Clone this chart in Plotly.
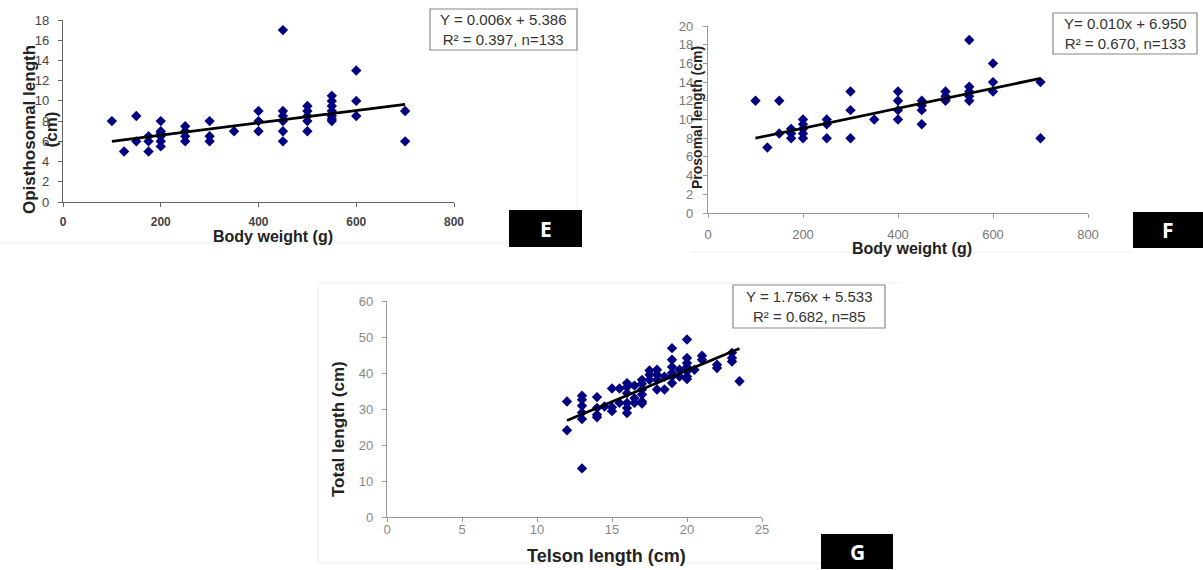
import plotly.graph_objects as go

W, H = 1203, 570

# ---------------- Data ----------------
# Panel E: Body weight (g) vs Opisthosomal length (cm)
e_x = [100, 125, 150, 150, 175, 175, 175,
       200, 200, 200, 200, 200, 200,
       250, 250, 250, 250, 300, 300, 300, 350,
       400, 400, 400, 450, 450, 450, 450, 450, 450,
       500, 500, 500, 500, 500,
       550, 550, 550, 550, 550, 550, 550,
       600, 600, 600, 700, 700]
e_y = [8, 5, 8.5, 6, 6.5, 6, 5,
       8, 7, 6.8, 6.5, 6, 5.5,
       7.5, 7, 6.5, 6, 8, 6.5, 6, 7,
       9, 8, 7, 17, 9, 8.5, 8, 7, 6,
       9.5, 9, 8.5, 8, 7,
       10.5, 10, 9.5, 9, 8.5, 8.2, 8,
       13, 10, 8.5, 9, 6]
e_trend_x = [100, 700]
e_trend_y = [6.0, 9.65]

# Panel F: Body weight (g) vs Prosomal length (cm)
f_x = [100, 125, 150, 150, 175, 175, 175,
       200, 200, 200, 200, 200,
       250, 250, 250, 300, 300, 300, 350,
       400, 400, 400, 400, 450, 450, 450, 450,
       500, 500, 500, 500,
       550, 550, 550, 550, 550,
       600, 600, 600, 700, 700]
f_y = [12, 7, 12, 8.5, 9, 8.5, 8,
       10, 9.5, 9, 8.5, 8,
       10, 9.5, 8, 13, 11, 8, 10,
       13, 12, 11, 10, 12, 11.5, 11, 9.5,
       13, 12.5, 12.2, 12,
       18.5, 13.5, 13, 12.5, 12,
       16, 14, 13, 14, 8]
f_trend_x = [100, 700]
f_trend_y = [8.0, 14.4]

# Panel G: Telson length (cm) vs Total length (cm)
g_x = [12, 12,
       13, 13, 13, 13, 13, 13,
       14, 14, 14, 14, 14.5,
       15, 15, 15, 15.5, 15.5,
       16, 16, 16, 16, 16, 16,
       16.5, 16.5, 16.5,
       17, 17, 17, 17, 17, 17,
       17.5, 17.5, 17.5,
       18, 18, 18, 18, 18.5, 18.5,
       19, 19, 19, 19, 19, 19,
       19.5, 19.5,
       20, 20, 20, 20, 20, 20, 20,
       20.5, 21, 21, 22, 22, 23, 23, 23, 23.5]
g_y = [32.1, 24.1,
       33.7, 32.6, 30.9, 29.0, 27.2, 13.5,
       33.3, 30.3, 28.4, 27.7, 30.7,
       35.7, 30.5, 29.4, 35.7, 31.7,
       37.2, 36.1, 34.4, 31.7, 30.3, 28.9,
       36.5, 33.0, 31.7,
       38.1, 37.0, 35.4, 34.0, 32.1, 31.5,
       40.7, 39.5, 38.1,
       40.9, 39.5, 38.1, 35.4, 39.0, 35.4,
       46.9, 43.7, 41.7, 40.0, 39.0, 37.2,
       40.9, 39.0,
       49.3, 44.2, 42.8, 41.7, 40.5, 39.0, 38.3,
       40.9, 44.8, 43.7, 42.3, 41.4, 45.6, 44.2, 43.2, 37.7]
g_trend_x = [12, 23.5]
g_trend_y = [26.8, 46.8]

eq_texts = {
    "E": "Y = 0.006x + 5.386<br>R² = 0.397, n=133",
    "F": "Y= 0.010x + 6.950<br>R² = 0.670, n=133",
    "G": "Y = 1.756x + 5.533<br>R² = 0.682, n=85",
}

# ---------------- Helpers ----------------
def X(px):
    return px / W

def Y(py):
    return 1 - py / H

MARK = dict(symbol="diamond", size=8, color="#000080", line=dict(width=0))
FONT = "Liberation Sans, Arial, sans-serif"

fig = go.Figure()

panels = [
    ("x", "y", e_x, e_y, e_trend_x, e_trend_y),
    ("x2", "y2", f_x, f_y, f_trend_x, f_trend_y),
    ("x3", "y3", g_x, g_y, g_trend_x, g_trend_y),
]
for xa, ya, px_, py_, tx, ty in panels:
    fig.add_trace(go.Scatter(x=px_, y=py_, mode="markers", marker=MARK,
                             xaxis=xa, yaxis=ya, showlegend=False, hoverinfo="x+y"))
    fig.add_trace(go.Scatter(x=tx, y=ty, mode="lines", line=dict(color="black", width=2.8),
                             xaxis=xa, yaxis=ya, showlegend=False, hoverinfo="skip"))

def ax(domain, rng, dtick, color, tcolor, tsize, standoff, anchor, bold=False):
    return dict(domain=domain, range=rng, dtick=dtick, tick0=0, showgrid=False, zeroline=False,
                showline=True, linecolor=color, linewidth=1.2, ticks="outside", ticklen=4,
                tickcolor=color, tickwidth=1,
                tickfont=dict(family=FONT, size=tsize, color=tcolor,
                              weight="bold" if bold else "normal"),
                ticklabelstandoff=standoff, anchor=anchor, automargin=False, fixedrange=True)

layout = dict(
    width=W, height=H, margin=dict(l=0, r=0, t=0, b=0),
    paper_bgcolor="white", plot_bgcolor="rgba(0,0,0,0)",
    xaxis=ax([X(63), X(454)], [0, 800], 200, "#666", "#444", 12, 4, "y", True),
    yaxis=ax([Y(202), Y(20)], [0, 18], 2, "#666", "#444", 13, 6, "x"),
    xaxis2=ax([X(708), X(1088)], [0, 800], 200, "#999", "#777", 13, 5, "y2"),
    yaxis2=ax([Y(213), Y(26)], [0, 20], 2, "#999", "#777", 13, 7, "x2"),
    xaxis3=ax([X(387), X(762)], [0, 25], 5, "#999", "#888", 13, -4, "y3"),
    yaxis3=ax([Y(517), Y(301)], [0, 60], 10, "#999", "#888", 13, 6, "x3"),
)
fig.update_layout(**layout)

annotations = []
shapes = []

# faint edges of the original image panels
def faint(x0, y0, x1, y1):
    shapes.append(dict(type="line", xref="paper", yref="paper", x0=X(x0), x1=X(x1),
                       y0=Y(y0), y1=Y(y1), line=dict(color="#ededed", width=1), layer="below"))

faint(0, 243, 509, 243)
faint(577, 0, 577, 210)
faint(690, 252, 1133, 252)
faint(318, 283, 900, 283)
faint(318, 283, 318, 563)
faint(318, 563, 821, 563)

def title(text, cx, cy, size, angle=0):
    annotations.append(dict(text=text, x=X(cx), y=Y(cy), xref="paper", yref="paper",
                            showarrow=False, textangle=angle, xanchor="center", yanchor="middle",
                            font=dict(family=FONT, size=size, color="#222", weight="bold")))

# axis titles
title("Opisthosomal length<br>(cm)", 40, 130, 17, -90)
title("Body weight (g)", 273, 237, 16)
title("Prosomal length (cm)", 697, 118, 14, -90)
title("Body weight (g)", 912, 248, 16)
title("Total length (cm)", 338, 429, 17, -90)
title("Telson length (cm)", 606, 556, 18)

# equation boxes
def eqbox(key, x0, y0, x1, y1):
    shapes.append(dict(type="rect", xref="paper", yref="paper", x0=X(x0), x1=X(x1),
                       y0=Y(y1), y1=Y(y0), line=dict(color="#888", width=1.2),
                       fillcolor="white", layer="above"))
    annotations.append(dict(text=eq_texts[key], x=X((x0 + x1) / 2), y=Y((y0 + y1) / 2),
                            xref="paper", yref="paper", showarrow=False, align="center",
                            xanchor="center", yanchor="middle",
                            font=dict(family=FONT, size=15, color="#333")))

eqbox("E", 430, 9, 577, 50)
eqbox("F", 1053, 13, 1197, 54)
eqbox("G", 733, 285, 885, 328)

# black label boxes
def label(letter, x0, y0, x1, y1):
    shapes.append(dict(type="rect", xref="paper", yref="paper", x0=X(x0), x1=X(x1),
                       y0=Y(y1), y1=Y(y0), line=dict(width=0), fillcolor="black"))
    annotations.append(dict(text=letter, x=X((x0 + x1) / 2), y=Y((y0 + y1) / 2),
                            xref="paper", yref="paper", showarrow=False,
                            xanchor="center", yanchor="middle",
                            font=dict(family="Open Sans, sans-serif", size=21, color="white",
                                      weight="bold")))

label("E", 509, 210, 582, 247)
label("F", 1133, 212, 1203, 248)
label("G", 821, 534, 893, 569)

fig.update_layout(annotations=annotations, shapes=shapes)
fig.write_html("out.html", config={"displayModeBar": False},
               post_script="document.body.style.margin='0';document.body.style.overflow='hidden';")
